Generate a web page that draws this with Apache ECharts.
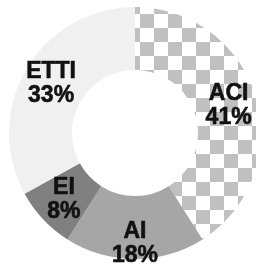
<!DOCTYPE html>
<html>
<head>
<meta charset="utf-8">
<script src="https://cdn.jsdelivr.net/npm/echarts@6/dist/echarts.min.js"></script>
<style>
  html, body { margin: 0; padding: 0; background: #fff; }
  #main { width: 256px; height: 264px; }
</style>
</head>
<body>
<div id="main"></div>
<script>
// data
var categories = ['ACI', 'AI', 'EI', 'ETTI'];
var shares = [41, 18, 8, 33];

var colors = ['#ffffff', '#a6a6a6', '#808080', '#f0f0f0'];

var myChart = echarts.init(document.getElementById('main'));

var pieData = categories.map(function(name, i) {
	var item = {
		name: name,
		value: shares[i],
		itemStyle: { color: colors[i] }
	};
	if (name === 'ACI') {
		// checkerboard fill
		item.itemStyle.decal = {
			symbol: 'rect',
			symbolSize: 1,
			color: '#c0c0c0',
			dashArrayX: [[14, 14], [0, 14, 14, 0]],
			dashArrayY: [14, 0],
			rotation: 0
		};
	}
	if (name === 'AI') {
		item.label = { offset: [0, 13] };
	}
	return item;
});

var option = {
	animation: false,
	series: [{
		type: 'pie',
		center: [135, 133],
		radius: [63, 126],
		startAngle: 90,
		clockwise: true,
		avoidLabelOverlap: false,
		label: {
			show: true,
			position: 'inside',
			formatter: '{b}\n{d}%',
			fontFamily: 'Liberation Sans, Arial, sans-serif',
			fontWeight: 'bold',
			fontSize: 23,
			lineHeight: 24,
			color: '#111',
			textBorderColor: '#111',
			textBorderWidth: 0.6
		},
		labelLine: { show: false },
		emphasis: { disabled: true },
		data: pieData
	}]
};
myChart.setOption(option);
</script>
</body>
</html>
